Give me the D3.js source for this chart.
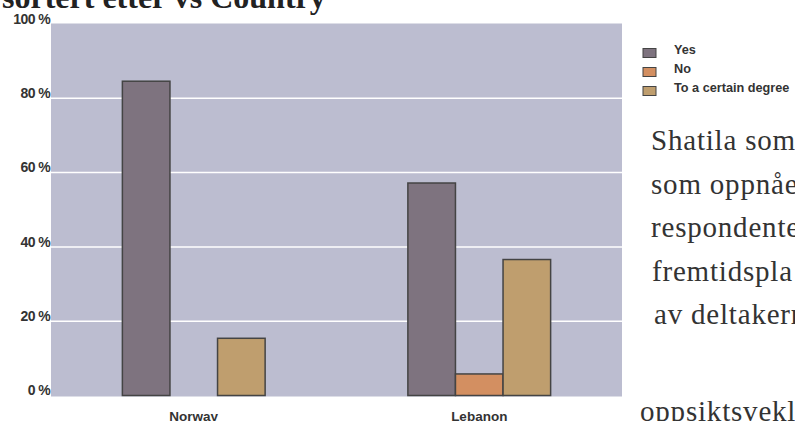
<!DOCTYPE html>
<html>
<head>
<meta charset="utf-8">
<script src="https://cdn.jsdelivr.net/npm/d3@7"></script>
<style>
  html, body { margin: 0; padding: 0; background: #fff; overflow: hidden; }
  svg { display: block; }
</style>
</head>
<body>
<svg id="chart" width="795" height="421"></svg>
<script>
const categories = ["Norway", "Lebanon"];
const seriesNames = ["Yes", "No", "To a certain degree"];
const yesValues = [84.6, 57.2];
const noValues = [0, 5.8];
const degreeValues = [15.4, 36.6];
const yTicks = [0, 20, 40, 60, 80, 100];
const seriesColors = ["#7e737f", "#d38f61", "#bf9e6e"];
const titleText = "sortert etter vs Country";
const sideLines = ["Shatila som", "som oppnåe", "respondente", "fremtidspla", "av deltakern", "oppsiktsvekl"];

const seriesValues = [yesValues, noValues, degreeValues];
const rows = categories.map((c, i) => ({
  category: c,
  values: seriesNames.map((s, j) => ({ series: s, idx: j, value: seriesValues[j][i] }))
}));

const svg = d3.select("#chart");
const plot = { left: 51, right: 622, top: 23.5, bottom: 396.5 };

const x0 = d3.scaleBand().domain(categories).range([plot.left, plot.right]).padding(0);
const x1 = d3.scaleBand().domain(seriesNames).range([0, x0.bandwidth()]).paddingInner(0).paddingOuter(1.5);
const y = d3.scaleLinear().domain([0, 100]).range([395.5, 24]);
const color = d3.scaleOrdinal().domain(seriesNames).range(seriesColors);

// Title (mostly cropped at top)
svg.append("text")
  .attr("x", 2).attr("y", 8)
  .attr("font-family", "'Liberation Serif', 'Times New Roman', serif")
  .attr("font-weight", "bold")
  .attr("font-size", 32)
  .attr("fill", "#222")
  .text(titleText);

// Plot background
svg.append("rect")
  .attr("x", plot.left).attr("y", plot.top)
  .attr("width", plot.right - plot.left).attr("height", plot.bottom - plot.top)
  .attr("fill", "#bcbdd0");

// Gridlines
svg.append("g").selectAll("line")
  .data(yTicks.filter(t => t > 0 && t < 100))
  .join("line")
  .attr("x1", plot.left).attr("x2", plot.right)
  .attr("y1", d => y(d)).attr("y2", d => y(d))
  .attr("stroke", "#ffffff").attr("stroke-width", 1.5);

// Y axis labels
const yAxis = d3.axisLeft(y).tickValues(yTicks).tickSize(0).tickPadding(1).tickFormat(d => d + " %");
const yg = svg.append("g").attr("transform", `translate(${plot.left},0)`).call(yAxis);
yg.select(".domain").remove();
yg.selectAll("text")
  .attr("font-family", "'Liberation Sans', Arial, sans-serif")
  .attr("font-weight", "bold")
  .attr("font-size", 14)
  .attr("fill", "#333")
  .attr("dy", "-0.05em")
  .style("letter-spacing", "-0.6px");

// Bars
const groups = svg.append("g").selectAll("g")
  .data(rows).join("g")
  .attr("transform", d => `translate(${x0(d.category)},0)`);
groups.selectAll("rect")
  .data(d => d.values.filter(v => v.value > 0))
  .join("rect")
  .attr("x", d => x1(d.series))
  .attr("y", d => y(d.value))
  .attr("width", x1.bandwidth())
  .attr("height", d => y(0) - y(d.value))
  .attr("fill", d => color(d.series))
  .attr("stroke", "#444")
  .attr("stroke-width", 1.5);

// X axis labels
const xAxis = d3.axisBottom(x0).tickSize(0).tickPadding(0);
const xg = svg.append("g").attr("transform", `translate(0,${y(0)})`).call(xAxis);
xg.select(".domain").remove();
xg.selectAll("text")
  .attr("font-family", "'Liberation Sans', Arial, sans-serif")
  .attr("font-weight", "bold")
  .attr("font-size", 13.5)
  .attr("fill", "#333")
  .attr("dy", 0)
  .attr("y", 25.5);

// Legend
const legend = svg.append("g").attr("transform", "translate(643,0)");
const lg = legend.selectAll("g").data(seriesNames).join("g")
  .attr("transform", (d, i) => `translate(0,${48.5 + i * 19})`);
lg.append("rect")
  .attr("width", 13).attr("height", 9)
  .attr("fill", d => color(d))
  .attr("stroke", "#444").attr("stroke-width", 1);
lg.append("text")
  .attr("x", 31).attr("y", 5)
  .attr("font-family", "'Liberation Sans', Arial, sans-serif")
  .attr("font-weight", "bold")
  .attr("font-size", 12.7)
  .attr("fill", "#333")
  .text(d => d);

// Side text (cropped)
const sideX = [651, 651, 651, 652, 654, 640];
const sideY = [150, 194, 237, 281, 324, 421];
svg.append("g").selectAll("text")
  .data(sideLines).join("text")
  .attr("x", (d, i) => sideX[i])
  .attr("y", (d, i) => sideY[i])
  .attr("font-family", "'Liberation Serif', 'Times New Roman', serif")
  .attr("font-size", 29)
  .attr("fill", "#333")
  .style("letter-spacing", "0.8px")
  .text(d => d);
</script>
</body>
</html>
